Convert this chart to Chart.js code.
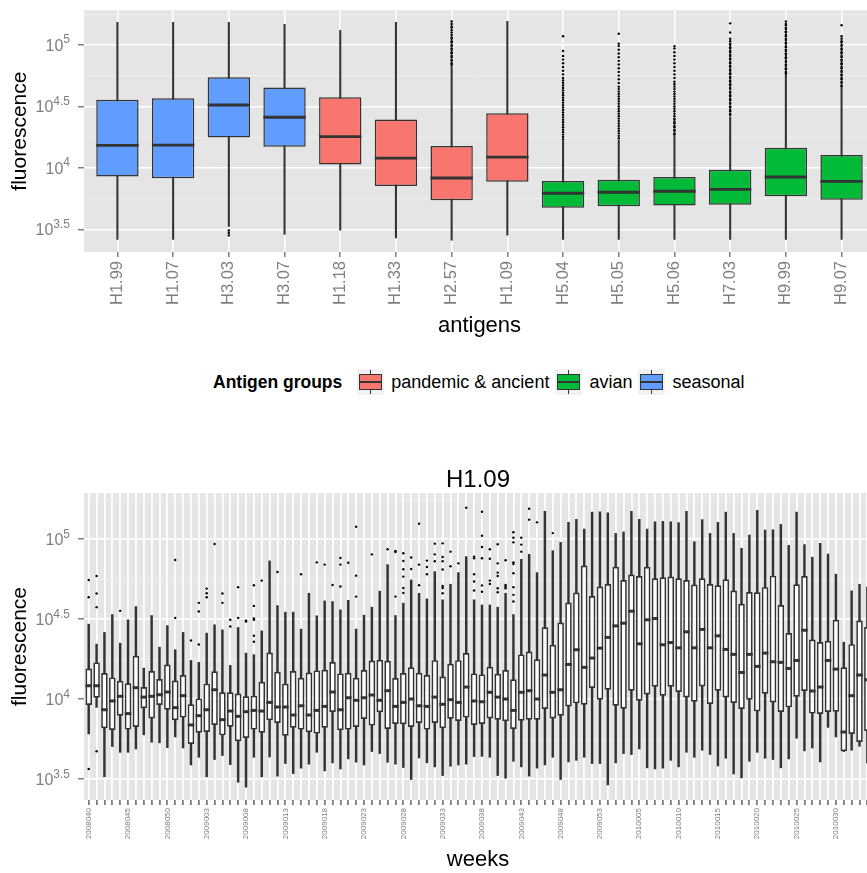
<!DOCTYPE html>
<html>
<head>
<meta charset="utf-8">
<title>fluorescence by antigen</title>
<script src="https://cdn.jsdelivr.net/npm/chart.js@4.4.1/dist/chart.umd.min.js"></script>
<style>
html,body{margin:0;padding:0;background:#fff}
#page{position:relative;width:867px;height:873px;overflow:hidden}
#top-chart{position:absolute;left:0;top:0}
#bot-chart{position:absolute;left:0;top:455px}
#legend{position:absolute;left:213px;top:369px;height:26px;display:flex;align-items:center;white-space:nowrap;
  font-family:"Liberation Sans",Arial,Helvetica,sans-serif;font-size:18px;color:#000}
#legend .ttl{font-weight:bold;font-size:17.5px;margin-right:15px}
#legend .txt{margin-right:6px}
.key{position:relative;width:27px;height:26px;background:#F2F2F2;margin-right:7px}
.key .wh{position:absolute;left:13px;top:1px;bottom:1px;width:1px;background:#333}
.key .bx{position:absolute;left:2px;right:2px;top:5px;bottom:5px;border:1.3px solid #333;box-sizing:border-box}
.key .md{position:absolute;left:2px;right:2px;top:12px;height:2px;background:#333}
</style>
</head>
<body>
<div id="page">
  <canvas id="top-chart" width="880" height="345"></canvas>
  <div id="legend"><span class="ttl">Antigen groups</span></div>
  <canvas id="bot-chart" width="880" height="418"></canvas>
</div>
<script>
var FONT='"Liberation Sans", Arial, Helvetica, sans-serif';
var PANEL='#E5E5E5',MINOR='#F2F2F2',INK='#333333',AXIS_TXT='#7F7F7F';

// y axis, log10 units
var yMajor=[3.5,4,4.5,5];
var yMinor=[3.75,4.25,4.75,5.25];

// ---- top panel: antigens ----
var antigens=['H1.99','H1.07','H3.03','H3.07','H1.18','H1.33','H2.57','H1.09','H5.04','H5.05','H5.06','H7.03','H9.99','H9.07'];
var groupNames=['pandemic & ancient','avian','seasonal'];
var groupColors=['#F8766D','#00BA38','#619CFF'];
var antigenGroup=[2,2,2,2,0,0,0,0,1,1,1,1,1,1];
var agLow =[3.417,3.417,3.524,3.457,3.492,3.430,3.411,3.452,3.417,3.417,3.417,3.417,3.417,3.417];
var agQ1  =[3.930,3.914,4.247,4.172,4.027,3.852,3.736,3.887,3.675,3.688,3.694,3.699,3.769,3.740];
var agMed =[4.183,4.185,4.511,4.411,4.253,4.078,3.917,4.086,3.793,3.801,3.809,3.825,3.925,3.890];
var agQ3  =[4.554,4.565,4.736,4.653,4.573,4.393,4.177,4.444,3.893,3.903,3.925,3.984,4.164,4.105];
var agHigh=[5.183,5.183,5.183,5.167,5.118,5.183,4.831,5.191,4.218,4.226,4.261,4.414,4.761,4.648];
var agOutliers=[
  [],[],[3.49,3.47,3.45],[],[],[],
  [4.84,4.85,4.87,4.88,4.90,4.91,4.93,4.94,4.96,4.97,4.99,5.00,5.02,5.03,5.05,5.06,5.08,5.10,5.12,5.14,5.15,5.17,5.19],
  [],
  [4.23,4.25,4.27,4.29,4.31,4.33,4.35,4.37,4.39,4.41,4.43,4.45,4.47,4.49,4.51,4.53,4.55,4.57,4.59,4.61,4.63,4.65,4.67,4.69,4.71,4.73,4.76,4.79,4.82,4.85,4.88,4.91,4.95,5.07],
  [4.24,4.26,4.28,4.30,4.32,4.34,4.36,4.38,4.40,4.42,4.44,4.46,4.48,4.50,4.52,4.54,4.56,4.58,4.60,4.62,4.64,4.66,4.69,4.72,4.75,4.78,4.81,4.84,4.87,4.90,4.93,4.96,4.99,5.01,5.09],
  [4.27,4.28,4.30,4.31,4.33,4.34,4.36,4.37,4.39,4.40,4.42,4.44,4.46,4.48,4.50,4.52,4.54,4.56,4.58,4.60,4.62,4.64,4.66,4.68,4.70,4.73,4.76,4.79,4.82,4.85,4.88,4.91,4.94,4.97,4.99],
  [4.43,4.44,4.46,4.47,4.49,4.50,4.52,4.53,4.55,4.56,4.58,4.59,4.61,4.62,4.64,4.65,4.67,4.68,4.70,4.71,4.73,4.74,4.76,4.77,4.79,4.80,4.82,4.83,4.85,4.86,4.88,4.89,4.91,4.92,4.94,4.95,4.97,4.98,5.00,5.01,5.03,5.05,5.10,5.175],
  [4.77,4.78,4.80,4.81,4.83,4.84,4.86,4.87,4.89,4.90,4.92,4.93,4.95,4.96,4.98,4.99,5.01,5.02,5.04,5.05,5.07,5.08,5.10,5.11,5.13,5.14,5.16,5.17,5.19],
  [4.66,4.67,4.69,4.70,4.72,4.73,4.75,4.76,4.78,4.79,4.81,4.82,4.84,4.85,4.87,4.88,4.90,4.91,4.93,4.94,4.96,4.97,4.99,5.00,5.02,5.03,5.05,5.07,5.16]
];

// ---- bottom panel: H1.09 by week ----
var weeks=['2008040','2008041','2008042','2008043','2008044','2008045','2008046','2008047','2008048','2008049',
  '2008050','2008051','2008052','2009001','2009002','2009003','2009004','2009005','2009006','2009007',
  '2009008','2009009','2009010','2009011','2009012','2009013','2009014','2009015','2009016','2009017',
  '2009018','2009019','2009020','2009021','2009022','2009023','2009024','2009025','2009026','2009027',
  '2009028','2009029','2009030','2009031','2009032','2009033','2009034','2009035','2009036','2009037',
  '2009038','2009039','2009040','2009041','2009042','2009043','2009044','2009045','2009046','2009047',
  '2009048','2009049','2009050','2009051','2009052','2009053','2010001','2010002','2010003','2010004',
  '2010005','2010006','2010007','2010008','2010009','2010010','2010011','2010012','2010013','2010014',
  '2010015','2010016','2010017','2010018','2010019','2010020','2010021','2010022','2010023','2010024',
  '2010025','2010026','2010027','2010028','2010029','2010030','2010031','2010032','2010033','2010034'];
var wkLow=[3.782,3.948,3.514,3.703,3.667,3.667,3.688,3.776,3.730,3.726,
  3.696,3.763,3.694,3.588,3.636,3.514,3.622,3.647,3.590,3.480,
  3.449,3.636,3.514,3.638,3.518,3.597,3.534,3.568,3.593,3.667,
  3.551,3.601,3.563,3.626,3.605,3.588,3.672,3.659,3.605,3.593,
  3.572,3.497,3.632,3.601,3.576,3.522,3.580,3.588,3.593,3.640,
  3.642,3.636,3.522,3.505,3.611,3.576,3.518,3.568,3.588,3.636,
  3.497,3.607,3.617,3.636,3.597,3.597,3.464,3.601,3.659,3.653,
  3.688,3.570,3.563,3.568,3.617,3.576,3.667,3.636,3.680,3.653,
  3.582,3.630,3.532,3.507,3.611,3.667,3.630,3.622,3.570,3.626,
  3.755,3.676,3.694,3.607,3.823,3.763,3.672,3.680,3.705,3.600];
var wkQ1=[3.963,4.008,3.817,3.807,3.896,3.809,3.825,3.942,3.879,3.963,
  3.933,3.867,3.884,3.719,3.790,3.794,3.838,3.773,3.827,3.736,
  3.757,3.809,3.790,3.867,3.850,3.771,3.821,3.809,3.792,3.784,
  3.821,3.919,3.805,3.809,3.825,3.875,3.834,3.917,3.813,3.844,
  3.842,3.825,3.850,3.809,3.850,3.817,3.877,3.863,3.884,3.838,
  3.844,3.879,3.871,3.861,3.813,3.865,3.871,3.871,3.938,3.879,
  3.896,3.954,3.973,3.965,4.069,3.996,4.058,3.958,3.940,4.052,
  3.990,4.029,4.077,4.021,4.077,4.044,4.010,3.983,4.079,3.969,
  4.052,4.010,3.975,3.938,3.996,3.923,4.033,3.979,3.919,3.948,
  4.015,4.050,3.909,3.906,3.919,3.921,3.674,3.782,3.732,3.800];
var wkMed=[4.083,4.083,3.933,3.988,4.017,3.909,4.071,4.012,4.017,4.027,
  4.044,3.946,4.021,3.838,3.896,3.933,4.058,3.871,3.925,3.892,
  3.921,3.929,3.925,3.979,3.950,3.950,3.900,3.958,3.900,3.929,
  3.954,4.044,3.933,4.008,3.992,4.008,4.025,3.992,4.052,3.954,
  3.979,4.000,3.958,3.954,4.012,3.967,3.996,3.979,4.075,3.988,
  3.983,4.042,4.012,4.000,3.929,4.042,4.052,4.000,4.150,4.042,
  4.058,4.216,4.308,4.198,4.256,4.318,4.385,4.457,4.474,4.549,
  4.345,4.495,4.503,4.339,4.353,4.320,4.420,4.320,4.435,4.320,
  4.395,4.310,4.279,4.166,4.279,4.204,4.287,4.233,4.229,4.191,
  4.241,4.430,4.050,4.075,4.241,4.187,3.794,4.021,4.150,4.120];
var wkQ3=[4.191,4.229,4.162,4.135,4.114,4.098,4.270,4.075,4.175,4.125,
  4.216,4.116,4.150,3.967,4.004,4.096,4.173,4.042,4.042,4.035,
  4.017,4.021,4.108,4.291,4.170,4.096,4.175,4.133,4.166,4.179,
  4.183,4.231,4.160,4.164,4.133,4.181,4.241,4.245,4.239,4.131,
  4.162,4.198,4.164,4.150,4.243,4.141,4.220,4.243,4.287,4.160,
  4.154,4.202,4.158,4.181,4.123,4.279,4.297,4.249,4.449,4.339,
  4.478,4.603,4.665,4.834,4.644,4.703,4.719,4.827,4.744,4.778,
  4.769,4.827,4.755,4.761,4.765,4.755,4.744,4.715,4.755,4.719,
  4.711,4.748,4.678,4.595,4.669,4.667,4.699,4.771,4.588,4.412,
  4.717,4.769,4.372,4.356,4.364,4.495,4.198,4.343,4.491,4.450];
var wkHigh=[4.468,4.343,4.416,4.528,4.349,4.495,4.578,4.193,4.522,4.324,
  4.459,4.308,4.416,4.241,4.229,4.412,4.464,4.432,4.210,4.447,
  4.287,4.277,4.426,4.863,4.584,4.543,4.543,4.437,4.661,4.520,
  4.613,4.609,4.557,4.617,4.437,4.524,4.574,4.674,4.840,4.522,
  4.599,4.744,4.661,4.626,4.796,4.620,4.717,4.790,4.890,4.620,
  4.588,4.588,4.574,4.661,4.528,4.873,4.904,4.790,5.173,4.927,
  4.979,5.104,5.123,5.062,5.168,5.170,5.164,5.035,5.044,5.173,
  5.123,5.062,5.108,5.110,5.108,5.102,5.173,4.983,5.121,5.035,
  5.104,5.168,5.035,4.942,5.025,5.179,5.056,5.058,5.091,4.960,
  5.168,4.965,4.886,4.973,4.906,4.780,4.355,4.676,4.717,4.700];
var wkOutliers=[
  [4.744,4.636,3.563],[4.769,4.659,4.574,3.674],[],[],[4.551],[],[],[],[],[],
  [],[4.869,4.507],[],[4.366],[4.601,4.547,4.341],[4.690,4.661,4.636],[4.969],[4.659,4.601],[4.495,4.453],[4.699,4.507],
  [4.484,4.490],[4.711,4.582,4.503,4.495,4.395,4.358],[4.740],[],[4.794],[],[],[4.780],[],[4.854],
  [4.840],[4.713],[4.881,4.840,4.703],[4.852],[5.077,4.771,4.640],[],[4.904],[],[4.936],[4.919,4.925,4.640],
  [4.911,4.863,4.811,4.765,4.694,4.663],[4.884,4.813],[5.096,4.840,4.711],[4.865,4.825,4.780],[4.971,4.904,4.861],
  [4.973,4.888,4.861,4.809,4.707,4.694,4.661],[4.921,4.830],[4.848],[5.195],[4.890,4.879,4.780,4.734,4.678],
  [5.170,5.020,4.950,4.880,4.710,4.670],[4.936,4.877,4.740,4.719],[4.967,4.848,4.790,4.769,4.692,4.667],[4.867,4.713,4.703,4.692],
  [5.042,5.008,4.979,4.854,4.844,4.786,4.699,4.651,4.609],[5.008,4.965,4.921],[5.189,5.121],[5.104],[],[5.037],
  [],[],[],[],[],[],[],[],[],[],
  [],[],[],[],[],[],[],[],[],[],
  [],[],[],[],[],[],[],[],[],[],
  [],[],[],[],[],[],[],[],[],[]
];

Chart.defaults.font.family=FONT;

function isMajor(v){return yMajor.indexOf(v)>=0;}

function panelPlugin(title){
  return {
    id:'panel',
    beforeDraw:function(chart){
      var a=chart.chartArea,ctx=chart.ctx;
      ctx.save();ctx.fillStyle=PANEL;
      ctx.fillRect(a.left,a.top,a.right-a.left,a.bottom-a.top);
      ctx.restore();
    },
    afterDraw:function(chart){
      var s=chart.scales.y,ctx=chart.ctx,a=chart.chartArea;
      ctx.save();
      ctx.fillStyle=AXIS_TXT;ctx.textAlign='left';ctx.textBaseline='alphabetic';
      for(var i=0;i<yMajor.length;i++){
        var y=s.getPixelForValue(yMajor[i]);
        var ex=String(yMajor[i]);
        ctx.font='12px '+FONT;var ew=ctx.measureText(ex).width;
        ctx.font='16px '+FONT;var bw=ctx.measureText('10').width;
        var xr=a.left-14;
        ctx.fillText('10',xr-ew-bw,y+6);
        ctx.font='12px '+FONT;ctx.fillText(ex,xr-ew,y-1.5);
      }
      if(title){
        ctx.fillStyle='#000';ctx.font='24px '+FONT;ctx.textAlign='center';
        ctx.fillText(title,(a.left+a.right)/2,a.top-6);
      }
      ctx.restore();
    }
  };
}

function makeBoxChart(id,cats,lo,q1,med,q3,hi,outl,fills,st){
  var whisk=[],box=[],mid=[],pts=[],i,k;
  for(i=0;i<cats.length;i++){
    whisk.push({x:i,y:[lo[i],hi[i]]});
    box.push({x:i,y:[q1[i],q3[i]]});
    mid.push({x:i,y:med[i]});
    for(k=0;k<outl[i].length;k++) pts.push({x:i,y:outl[i][k]});
  }
  var ticksY=yMajor.concat(yMinor).sort(function(a,b){return a-b;});
  var halfBox=function(c){var s=c.chart.scales.x;return Math.abs(s.getPixelForValue(1)-s.getPixelForValue(0))*st.boxPct/2;};
  return new Chart(document.getElementById(id),{
    type:'bar',
    data:{datasets:[
      {type:'bar',data:whisk,backgroundColor:INK,barThickness:st.whisker,grouped:false,order:4},
      {type:'bar',data:box,backgroundColor:fills,borderColor:INK,borderWidth:st.border,borderSkipped:false,
        grouped:false,categoryPercentage:1,barPercentage:st.boxPct,order:3},
      {type:'scatter',data:mid,pointStyle:'line',pointRadius:halfBox,pointBorderColor:INK,pointBorderWidth:st.median,order:2},
      {type:'scatter',data:pts,pointRadius:st.dot,pointBackgroundColor:'#000',pointBorderWidth:0,order:1}
    ]},
    options:{
      responsive:false,animation:false,events:[],
      layout:{padding:{top:st.padTop,right:5,left:0,bottom:0}},
      plugins:{legend:{display:false},tooltip:{enabled:false}},
      scales:{
        x:{type:'linear',min:-0.6,max:cats.length-0.4,offset:false,bounds:'data',
          afterBuildTicks:function(s){s.ticks=cats.map(function(c,j){return {value:j};});},
          afterFit:function(s){s.height=st.xAxisH;},
          grid:{offset:false,color:'#FFFFFF',lineWidth:st.vgrid,tickColor:AXIS_TXT,tickLength:5,drawTicks:true},
          border:{display:false},
          ticks:{autoSkip:false,minRotation:90,maxRotation:90,color:AXIS_TXT,font:{size:st.xFont},padding:st.xPad,
            callback:function(v){return v%st.every===0?cats[v]:'';}},
          title:{display:true,text:st.xTitle,color:'#000',font:{size:22},padding:{top:0,bottom:st.xTitlePad}}
        },
        y:{type:'linear',min:st.yMin,max:st.yMax,bounds:'data',
          afterBuildTicks:function(s){s.ticks=ticksY.map(function(v){return {value:v};});},
          afterFit:function(s){s.width=84;},
          grid:{
            color:function(c){return isMajor(c.tick.value)?'#FFFFFF':MINOR;},
            lineWidth:function(c){return isMajor(c.tick.value)?1.5:0.8;},
            tickColor:function(c){return isMajor(c.tick.value)?AXIS_TXT:'rgba(0,0,0,0)';},
            tickLength:6,drawTicks:true},
          border:{display:false},
          ticks:{autoSkip:false,callback:function(){return '';}},
          title:{display:true,text:'fluorescence',color:'#000',font:{size:21},padding:{top:8,bottom:0}}
        }
      }
    },
    plugins:[panelPlugin(st.title)]
  });
}

var agFill=antigenGroup.map(function(g){return groupColors[g];});
makeBoxChart('top-chart',antigens,agLow,agQ1,agMed,agQ3,agHigh,agOutliers,agFill,{
  whisker:1.4,border:1.5,median:2.8,dot:1.2,boxPct:0.76,padTop:8,xAxisH:93,vgrid:1.5,xFont:16.5,xPad:4,every:1,
  xTitle:'antigens',xTitlePad:6,yMin:3.315,yMax:5.282,title:null});

makeBoxChart('bot-chart',weeks,wkLow,wkQ1,wkMed,wkQ3,wkHigh,wkOutliers,'#FFFFFF',{
  whisker:1.8,border:1.7,median:3,dot:1.2,boxPct:0.83,padTop:38,xAxisH:73,vgrid:1.8,xFont:8,xPad:3,every:5,
  xTitle:'weeks',xTitlePad:0,yMin:3.369,yMax:5.2875,title:'H1.09'});

// legend
var lg=document.getElementById('legend');
for(var g=0;g<groupNames.length;g++){
  var key=document.createElement('span');
  key.className='key';
  key.innerHTML='<span class="wh"></span><span class="bx" style="background:'+groupColors[g]+'"></span><span class="md"></span>';
  lg.appendChild(key);
  var t=document.createElement('span');
  t.className='txt';t.textContent=groupNames[g];
  lg.appendChild(t);
}
</script>
</body>
</html>
